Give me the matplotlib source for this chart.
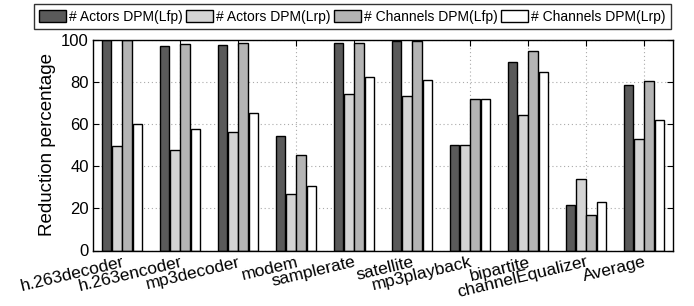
import matplotlib
matplotlib.use("Agg")
import matplotlib.pyplot as plt
import numpy as np

plt.rcParams['font.family'] = ['Liberation Sans', 'DejaVu Sans']

categories = ["h.263decoder", "h.263encoder", "mp3decoder", "modem", "samplerate",
              "satellite", "mp3playback", "bipartite", "channelEqualizer", "Average"]
actors_lfp = [100, 96.8, 97.3, 54.1, 98.2, 99.4, 50.0, 89.4, 21.7, 78.5]
actors_lrp = [49.7, 47.6, 56.0, 26.9, 74.4, 73.1, 50.0, 64.4, 33.9, 52.9]
channels_lfp = [100, 97.8, 98.2, 45.3, 98.4, 99.4, 71.9, 94.5, 16.8, 80.2]
channels_lrp = [60.0, 57.6, 65.2, 30.4, 82.3, 80.9, 71.9, 84.7, 23.0, 61.9]
series_labels = ["# Actors DPM(Lfp)", "# Actors DPM(Lrp)",
                 "# Channels DPM(Lfp)", "# Channels DPM(Lrp)"]
yticks = [0, 20, 40, 60, 80, 100]

colors = ["#5a5a5a", "#d4d4d4", "#b4b4b4", "#ffffff"]

fig = plt.figure(figsize=(6.94, 3.06), dpi=100)
ax = fig.add_axes([93/694, 1 - 250.5/306, 580/694, 211/306])

x = np.arange(1, len(categories) + 1)
step = 0.178
width = 0.162
offsets = [-1.5 * step, -0.5 * step, 0.5 * step, 1.5 * step]
handles = []
for vals, off, c, lab in zip([actors_lfp, actors_lrp, channels_lfp, channels_lrp],
                             offsets, colors, series_labels):
    h = ax.bar(x + off, vals, width, color=c, edgecolor='black', linewidth=1.0,
               label=lab, zorder=2)
    handles.append(h)

ax.set_xlim(0.5, len(categories) + 0.5)
ax.set_ylim(0, 100)
ax.set_yticks(yticks)
ax.set_xticks(x)
ax.set_xticklabels(categories, rotation=13.5, ha='right', va='top',
                   rotation_mode='anchor', fontsize=12.5)
ax.tick_params(axis='y', labelsize=12)
ax.tick_params(direction='in', top=True, right=True, length=4, width=0.8,
               colors='black', pad=3)
ax.tick_params(axis='x', pad=3)
ax.set_axisbelow(True)
ax.grid(True, linestyle=(0, (1, 2.5)), color='#aaaaaa', linewidth=0.8)
for s in ax.spines.values():
    s.set_linewidth(1.0)
    s.set_color('black')
ax.set_ylabel("Reduction percentage", fontsize=13.5, labelpad=4)

leg = fig.legend(handles=handles, labels=series_labels, loc='upper center',
                 bbox_to_anchor=(352.5/694, 1 - 4/306), ncol=4, fontsize=10,
                 frameon=True, fancybox=False, shadow=False, borderaxespad=0,
                 handlelength=1.95, handleheight=1.05, handletextpad=0.2,
                 columnspacing=0.25, borderpad=0.4)
leg.get_frame().set_edgecolor('black')
leg.get_frame().set_linewidth(1.0)

fig.savefig("out.png", dpi=100)
